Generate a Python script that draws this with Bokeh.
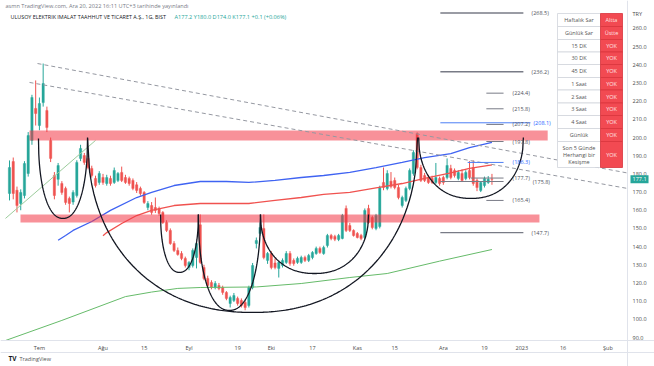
import numpy as np
from bokeh.plotting import figure
from bokeh.models import Range1d, FixedTicker, Label, ColumnDataSource, NumeralTickFormatter
from bokeh.core.properties import value
from bokeh.embed import file_html
from bokeh.resources import INLINE

FONT = "Open Sans"

# ---------------- data ----------------
opens = [169.2, 186.8, 171.0, 163.7, 168.1, 180.2, 198.4, 216.0, 206.6, 219.2,
         214.9, 198.4, 179.1, 177.0, 174.7, 172.0, 166.5, 164.5, 168.1, 188.5,
         190.1, 188.5, 183.0, 177.5, 175.3, 178.0, 174.7, 177.5, 175.3, 176.4,
         180.8, 178.0, 177.5, 176.4, 174.0, 172.0, 169.8, 161.5, 162.6, 161.5,
         160.9, 158.8, 153.3, 148.9, 141.7, 137.9, 136.2, 133.5, 128.5, 129.6,
         134.0, 152.0, 128.5, 122.5, 120.3, 117.5, 118.6, 117.5, 114.8, 108.7,
         110.4, 111.5, 110.4, 109.3, 107.6, 117.5, 141.7, 147.2, 150.0, 132.4,
         136.2, 131.0, 128.0, 129.6, 131.3, 136.2, 132.4, 131.3, 131.3, 134.0,
         132.4, 134.0, 136.2, 139.0, 136.2, 140.6, 146.1, 145.6, 143.9, 144.5,
         161.0, 151.6, 148.9, 147.2, 146.1, 145.0, 161.0, 156.0, 150.0, 151.0,
         175.3, 172.0, 176.0, 176.4, 172.5, 162.6, 165.4, 172.0, 180.2, 202.2,
         183.5, 179.1, 178.0, 177.5, 175.3, 177.5, 178.0, 178.0, 183.0, 181.9,
         177.5, 180.2, 177.5, 181.9, 183.5, 176.4, 170.9, 173.6, 175.3, 177.2]
highs = [187.4, 189.0, 173.0, 171.5, 187.0, 203.0, 223.5, 231.4, 222.0, 240.7,
         217.0, 200.0, 181.0, 186.0, 176.0, 173.0, 167.5, 171.0, 187.5, 196.0,
         191.5, 190.0, 184.5, 179.0, 181.5, 180.0, 179.5, 179.0, 183.5, 181.0,
         184.0, 179.5, 178.5, 177.5, 175.5, 173.0, 170.5, 165.0, 164.5, 167.0,
         162.0, 159.5, 154.5, 150.0, 143.0, 139.5, 137.5, 134.5, 132.0, 139.0,
         143.0, 157.7, 130.0, 124.0, 121.5, 121.0, 120.0, 118.5, 115.5, 113.0,
         114.5, 112.5, 111.5, 110.5, 118.5, 131.0, 145.0, 153.3, 157.7, 137.0,
         137.5, 133.5, 132.0, 133.5, 137.5, 137.5, 133.5, 134.5, 135.0, 135.0,
         136.0, 137.5, 140.0, 140.0, 140.5, 147.0, 147.0, 146.5, 147.0, 158.0,
         162.6, 153.0, 149.5, 148.0, 147.0, 161.0, 163.0, 157.0, 158.0, 173.5,
         183.5, 182.0, 181.0, 178.0, 174.0, 168.0, 173.0, 183.0, 193.0, 202.8,
         185.0, 180.5, 179.5, 179.0, 186.0, 178.5, 179.0, 188.5, 185.0, 183.0,
         182.0, 182.5, 182.0, 187.0, 187.4, 177.5, 176.0, 178.5, 178.8, 180.0]
lows = [165.4, 166.0, 158.8, 160.0, 166.5, 178.5, 196.0, 206.6, 204.0, 217.0,
        203.0, 186.5, 166.0, 173.5, 168.5, 163.0, 158.8, 163.0, 167.0, 187.0,
        185.0, 182.5, 178.0, 172.5, 174.0, 174.0, 173.5, 173.5, 174.5, 175.5,
        175.5, 174.5, 173.5, 171.0, 169.5, 168.0, 163.5, 160.0, 157.5, 158.5,
        157.0, 152.5, 148.0, 141.0, 137.0, 135.0, 132.5, 128.5, 127.0, 128.5,
        128.0, 130.5, 121.5, 117.5, 116.5, 116.5, 116.0, 113.5, 110.5, 106.5,
        109.5, 107.5, 106.5, 105.0, 106.5, 116.5, 139.0, 146.0, 133.0, 130.5,
        127.5, 127.5, 123.0, 128.5, 130.5, 129.5, 129.5, 130.5, 130.5, 131.5,
        131.5, 133.0, 135.5, 136.0, 135.5, 139.5, 143.5, 143.0, 143.0, 144.0,
        148.0, 148.0, 145.5, 144.5, 143.5, 144.0, 152.5, 149.5, 149.0, 150.0,
        171.0, 171.0, 172.0, 171.5, 166.0, 161.5, 164.5, 171.0, 179.0, 182.5,
        175.5, 175.5, 174.5, 174.5, 174.5, 173.5, 174.0, 177.0, 177.0, 178.0,
        176.5, 175.5, 176.5, 177.0, 173.5, 170.5, 170.0, 172.5, 174.5, 174.0]
closes = [183.5, 169.2, 162.6, 169.8, 185.7, 201.1, 222.0, 213.2, 218.7, 229.7,
          205.5, 188.5, 168.1, 184.6, 169.8, 164.3, 163.7, 169.8, 186.3, 194.0,
          186.3, 183.5, 179.1, 173.6, 180.2, 175.3, 178.0, 174.7, 181.9, 180.2,
          176.4, 175.3, 174.7, 172.0, 170.9, 169.2, 164.3, 163.7, 158.8, 159.9,
          158.2, 153.3, 148.9, 141.7, 137.9, 135.7, 133.5, 129.6, 131.3, 137.9,
          141.7, 131.3, 122.5, 118.6, 117.5, 119.7, 117.0, 114.8, 111.5, 112.0,
          113.1, 108.7, 107.6, 106.5, 117.5, 129.6, 143.4, 150.5, 134.0, 136.2,
          128.5, 128.5, 131.3, 132.4, 136.2, 130.7, 130.7, 133.5, 134.0, 132.4,
          135.1, 136.8, 139.0, 136.8, 139.5, 146.1, 144.5, 144.0, 146.1, 157.1,
          148.9, 148.9, 146.1, 145.0, 144.5, 159.9, 153.3, 150.5, 157.1, 172.5,
          172.5, 180.2, 173.0, 172.5, 167.0, 167.0, 172.0, 181.9, 191.8, 183.5,
          176.4, 176.4, 175.3, 175.3, 178.0, 174.7, 175.3, 184.6, 178.0, 179.1,
          180.8, 176.4, 180.8, 178.0, 174.7, 172.5, 175.3, 177.5, 177.0, 177.1]

time_tick_pos = [8, 25, 36, 48, 61, 70, 81, 93, 103, 116, 127, 137, 148, 160]
time_tick_labels = ["Tem", "Ağu", "15", "Eyl", "19", "Eki", "17", "Kas", "15",
                    "Ara", "19", "2023", "16", "Şub"]
price_ticks = [90, 100, 110, 120, 130, 140, 150, 160, 170, 180, 190, 200,
               210, 220, 230, 240, 250, 260]

blue_ma_bar = [13, 15, 17, 22, 27, 34, 38, 44, 51, 58, 64, 71, 78, 84, 91, 98, 105, 111, 118, 123, 129]
blue_ma_val = [143.5, 146.1, 148.9, 153.8, 159.9, 167.0, 169.8, 173.6, 175.8, 175.8, 175.3,
               176.4, 178.0, 179.1, 180.8, 183.5, 186.3, 189.0, 191.2, 194.5, 197.3]
red_ma_bar = [25, 26, 30, 34, 38, 44, 51, 58, 64, 71, 78, 84, 91, 98, 105, 111, 118, 123, 129]
red_ma_val = [146.0, 147.7, 152.7, 157.1, 159.9, 162.6, 163.7, 163.7, 163.7, 165.4, 167.0,
              168.7, 169.8, 172.3, 174.7, 177.5, 180.5, 183.0, 185.0]
green_ma_bar = [-1, 14, 31, 38, 45, 51, 66, 78, 91, 101, 115, 129]
green_ma_val = [88.4, 99.4, 112.5, 115.0, 117.0, 117.5, 117.8, 119.7, 123.0, 125.2, 132.0, 138.4]

# drawings
green_trend_bar = [-1.07, 23.0]
green_trend_val = [155.5, 198.4]
dash_x0 = [7.49, 5.35]
dash_y0 = [240.7, 230.3]
dash_x1 = [165.2, 165.2]
dash_y1 = [180.5, 172.0]

zone_bottom = [198.3, 153.3]
zone_top = [203.9, 157.7]
zone_start = [5.35, 2.94]
zone_end = [143.9, 141.7]

cup_start = [7.75, 20.86, 40.4, 50.5, 67.1, 109.4]
cup_end = [20.86, 109.1, 50.5, 67.1, 96.0, 137.4]
cup_rim = [199.5, 200.0, 157.7, 157.7, 157.7, 200.0]
cup_bottom = [155.5, 103.8, 125.8, 104.9, 125.2, 166.5]

level_price = [268.5, 236.2, 224.4, 215.8, 207.2, 208.1, 197.8, 186.3, 177.7, 175.8, 165.4, 147.7]
level_x0 = [115.2, 115.2, 127.5, 127.5, 127.5, 115.2, 127.5, 122.5, 123.3, 115.2, 127.5, 115.2]
level_x1 = [137.4, 137.4, 132.1, 132.1, 132.1, 139.3, 132.1, 132.1, 132.1, 132.1, 132.1, 137.4]
level_lab_x = [139.6, 139.6, 134.5, 134.5, 134.5, 140.1, 134.5, 134.5, 134.5, 139.9, 134.5, 139.6]
level_blue = [False, False, False, False, False, True, False, True, False, False, False, False]
level_thick = [1.4, 1.4, 1.0, 1.0, 1.0, 1.0, 1.0, 1.0, 1.0, 1.0, 1.0, 1.2]

tbl_labels = ["Haftalık Sar", "Günlük Sar", "15 DK", "30 DK", "45 DK", "1 Saat", "2 Saat",
              "3 Saat", "4 Saat", "Günlük", "Son 5 Günde|Herhangi bir|Kesişme"]
tbl_values = ["Altta", "Üstte", "YOK", "YOK", "YOK", "YOK", "YOK", "YOK", "YOK", "YOK", "YOK"]

header1 = "asmn TradingView.com, Ara 20, 2022 16:11 UTC+3 tarihinde yayınlandı"
header2 = "ULUSOY ELEKTRIK IMALAT TAAHHUT VE TICARET A.Ş., 1G, BIST"
header_ohlc = "A177.2  Y180.0  D174.0  K177.1  +0.1 (+0.06%)"

# ---------------- layout helpers (reference pixels -> data) ----------------
def PX(px):
    return (px - 9.0) / 3.74

def PY(py):
    return 90.0 + (337.0 - py) / 1.818

TEAL = "#26a69a"
RED = "#ef5350"
W, H = 654, 366

p = figure(frame_width=W, frame_height=H,
           x_range=Range1d(PX(0), PX(W)), y_range=Range1d(PY(H), PY(0)),
           output_backend="svg", toolbar_location=None, y_axis_location="right",
           min_border_left=0, min_border_top=0, min_border_right=0, min_border_bottom=0,
           background_fill_color="white", border_fill_color="white")
p.outline_line_color = None
p.grid.visible = False

for ax in (p.xaxis, p.yaxis):
    ax.major_tick_out = 0
    ax.major_tick_in = 0
    ax.minor_tick_out = 0
    ax.minor_tick_in = 0
    ax.axis_line_color = "#e0e3eb"
    ax.major_label_text_font = FONT
    ax.major_label_text_font_size = "5.5px"
    ax.major_label_text_color = "#4a4a4a"
p.xaxis.ticker = FixedTicker(ticks=time_tick_pos)
p.xaxis.major_label_overrides = {pos: lab for pos, lab in zip(time_tick_pos, time_tick_labels)}
p.xaxis.major_label_standoff = 3
p.xaxis.fixed_location = PY(340)
p.yaxis.ticker = FixedTicker(ticks=price_ticks)
p.yaxis.formatter = NumeralTickFormatter(format="0.0")
p.yaxis.major_label_standoff = 5
p.yaxis.fixed_location = PX(627)

# bottom border of the time scale
p.segment(x0=[PX(0)], y0=[PY(352)], x1=[PX(W)], y1=[PY(352)], line_color="#e0e3eb", line_width=1)

# candles
idx = list(range(len(opens)))
cols = [TEAL if c >= o else RED for o, c in zip(opens, closes)]
src = ColumnDataSource(dict(x=idx, h=highs, l=lows,
                            top=[max(o, c) for o, c in zip(opens, closes)],
                            bot=[min(o, c) for o, c in zip(opens, closes)],
                            color=cols))
p.segment(x0="x", y0="h", x1="x", y1="l", line_color="color", line_width=1, source=src)
p.vbar(x="x", width=0.62, top="top", bottom="bot", fill_color="color",
       line_color="color", line_width=0.4, source=src)

# moving averages
p.line(green_ma_bar, green_ma_val, line_color="#66bb6a", line_width=1.0)
p.line(red_ma_bar, red_ma_val, line_color="#f0524f", line_width=1.3)
p.line(blue_ma_bar, blue_ma_val, line_color="#3f63f2", line_width=1.3)
p.line(green_trend_bar, green_trend_val, line_color="#9ccc9c", line_width=1.0)

# zones
p.quad(left=zone_start, right=zone_end, bottom=zone_bottom, top=zone_top,
       fill_color="#f23645", fill_alpha=0.55, line_color=None)

# dashed trend lines
p.segment(x0=dash_x0, y0=dash_y0, x1=dash_x1, y1=dash_y1,
          line_color="#9598a1", line_width=1, line_dash="4 3")

# cups
for s, e, r, b in zip(cup_start, cup_end, cup_rim, cup_bottom):
    t = np.linspace(-1, 1, 161)
    xs = (s + e) / 2 + (e - s) / 2 * t
    ys = r - (r - b) * (1 - np.abs(t) ** 2.2) ** (1 / 2.2)
    p.line(xs, ys, line_color="#131722", line_width=1.3)

# price levels
lvl_col = ["#4d7ff5" if bl else "#787b86" for bl in level_blue]
lab_col = ["#2962ff" if bl else "#50535e" for bl in level_blue]
lsrc = ColumnDataSource(dict(x0=level_x0, x1=level_x1, y=level_price, lx=level_lab_x,
                             lc=lvl_col, tc=lab_col, w=level_thick,
                             t=["(%.1f)" % v for v in level_price]))
p.segment(x0="x0", y0="y", x1="x1", y1="y", line_color="lc", line_width="w", source=lsrc)
p.text(x="lx", y="y", text="t", text_color="tc", text_font=value(FONT),
       text_font_size="5.5px", text_baseline="middle", text_align="left", source=lsrc)

# table
row_edges = [13, 26, 39, 51.5, 64, 77, 89.5, 102.5, 115, 128, 141, 167]
tl, tm, tr = 557, 600, 622
tops = [PY(row_edges[i]) for i in range(len(tbl_labels))]
bots = [PY(row_edges[i + 1]) for i in range(len(tbl_labels))]
p.quad(left=[PX(tl)] * len(tops), right=[PX(tm)] * len(tops), top=tops, bottom=bots,
       fill_color="white", line_color="#d1d4dc", line_width=0.8)
p.quad(left=[PX(tm)] * len(tops), right=[PX(tr)] * len(tops), top=tops, bottom=bots,
       fill_color="#f24a52", line_color="#d9353d", line_width=0.8)
tx, ty, tt = [], [], []
for i, lab in enumerate(tbl_labels):
    parts = lab.split("|")
    mid = (row_edges[i] + row_edges[i + 1]) / 2
    for k, part in enumerate(parts):
        tx.append(PX((tl + tm) / 2))
        ty.append(PY(mid + (k - (len(parts) - 1) / 2) * 7))
        tt.append(part)
p.text(x=tx, y=ty, text=tt, text_color="#555555", text_font=value(FONT),
       text_font_size="5.5px", text_baseline="middle", text_align="center")
p.text(x=[PX((tm + tr) / 2)] * len(tbl_values),
       y=[PY((row_edges[i] + row_edges[i + 1]) / 2) for i in range(len(tbl_values))],
       text=tbl_values, text_color="#ffe4e4", text_font=value(FONT),
       text_font_size="5.5px", text_baseline="middle", text_align="center")

# header texts
p.add_layout(Label(x=PX(5), y=PY(5), text=header1, text_font=FONT, text_font_size="5.6px",
                   text_color="#787b86", text_baseline="middle"))
p.add_layout(Label(x=PX(10), y=PY(16), text=header2, text_font=FONT, text_font_size="5.4px",
                   text_color="#131722", text_baseline="middle"))
p.add_layout(Label(x=PX(174), y=PY(16), text=header_ohlc, text_font=FONT, text_font_size="5.6px",
                   text_color=TEAL, text_baseline="middle"))

# right axis extras
p.add_layout(Label(x=PX(632), y=PY(13), text="TRY", text_font=FONT, text_font_size="5.5px",
                   text_color="#4a4a4a", text_baseline="middle"))
p.add_layout(Label(x=PX(630), y=closes[-1], text="%.1f" % closes[-1], text_font=FONT,
                   text_font_size="5.5px", text_color="white", text_baseline="middle",
                   background_fill_color=TEAL, padding=2))

# footer
p.add_layout(Label(x=PX(8), y=PY(358), text="TV", text_font=FONT, text_font_size="6.5px",
                   text_font_style="bold", text_color="#131722", text_baseline="middle"))
p.add_layout(Label(x=PX(19), y=PY(358), text="TradingView", text_font=FONT,
                   text_font_size="5.5px", text_color="#555555", text_baseline="middle"))

open("out.html", "w").write(file_html(p, INLINE))
